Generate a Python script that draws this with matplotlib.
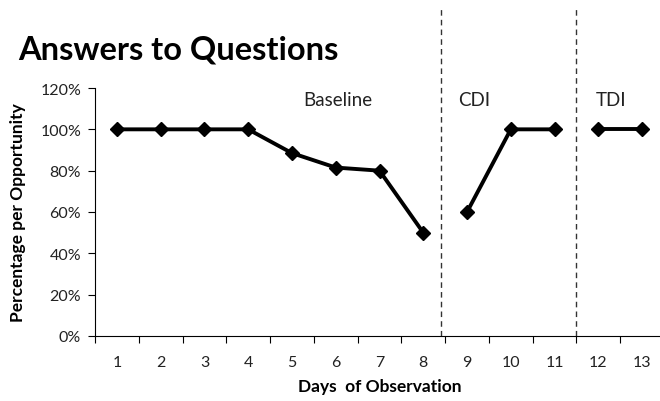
import numpy as np
import matplotlib.pyplot as plt

# data
days = [1, 2, 3, 4, 5, 6, 7, 8, 9, 10, 11, 12, 13]
baseline_days = [1, 2, 3, 4, 5, 6, 7, 8]
baseline_vals = [100, 100, 100, 100, 88.5, 81.5, 80, 50]
cdi_days = [9, 10, 11]
cdi_vals = [60, 100, 100]
tdi_days = [12, 13]
tdi_vals = [100, 100]
phase_breaks = [8.4, 11.5]
phase_labels = ['Baseline', 'CDI', 'TDI']
phase_label_x = [5.25, 8.8, 11.95]
y_ticks = [0, 20, 40, 60, 80, 100, 120]

plt.rcParams['font.family'] = ['Lato', 'DejaVu Sans']

fig = plt.figure(figsize=(6.6, 4.02), dpi=100)
ax = fig.add_axes([95 / 660, 65 / 402, 569 / 660, 248 / 402])

for xs, ys in [(baseline_days, baseline_vals), (cdi_days, cdi_vals), (tdi_days, tdi_vals)]:
    ax.plot(xs, ys, color='black', lw=2.8, marker='D', ms=7, clip_on=False, zorder=3)

for b in phase_breaks:
    ax.axvline(b, ymin=0, ymax=1.32, color='#333333', lw=1, ls=(0, (4, 3)), clip_on=False)

for lab, lx in zip(phase_labels, phase_label_x):
    ax.text(lx, 114.5, lab, fontsize=13.5, ha='left', va='center', color='#222222')

ax.set_xlim(0.5, 13.5)
ax.set_ylim(0, 120)
ax.set_yticks(y_ticks)
ax.set_yticklabels([f'{v}%' for v in y_ticks], fontsize=11.5, color='#222222')
ax.set_xticks(np.arange(0.5, 14, 1))
ax.set_xticklabels([])
ax.set_xticks(days, minor=True)
ax.set_xticklabels([str(d) for d in days], minor=True, fontsize=11.5, color='#222222')
ax.tick_params(axis='x', which='minor', length=0, pad=14)
ax.tick_params(axis='x', which='major', length=5, direction='out')
ax.tick_params(axis='y', length=5, direction='out', pad=5)

ax.spines['top'].set_visible(False)
ax.spines['right'].set_visible(False)

ax.set_xlabel('Days  of Observation', fontsize=12.5, fontweight='bold', labelpad=6)
ax.set_ylabel('Percentage per Opportunity', fontsize=12.5, fontweight='bold', labelpad=10)

fig.text(18 / 660, 1 - 50 / 402, 'Answers to Questions', fontsize=23.5, fontweight='bold',
         ha='left', va='center')

fig.savefig('out.png', dpi=100)
